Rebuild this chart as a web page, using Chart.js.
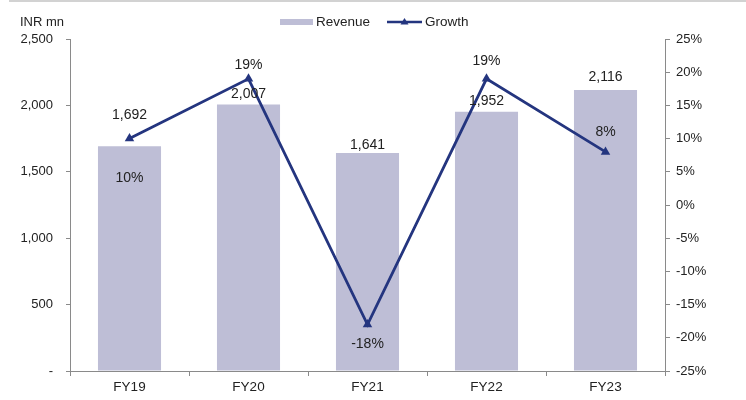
<!DOCTYPE html>
<html>
<head>
<meta charset="utf-8">
<script src="https://cdn.jsdelivr.net/npm/chart.js@4/dist/chart.umd.min.js"></script>
<style>
  html, body { margin: 0; padding: 0; background: #fff; }
  #wrap { width: 746px; height: 400px; position: relative; }
</style>
</head>
<body>
<div id="wrap"><canvas id="c" width="746" height="400"></canvas></div>
<script>
// Fiscal years and figures
const categories = ['FY19', 'FY20', 'FY21', 'FY22', 'FY23'];
const revenue = [1692, 2007, 1641, 1952, 2116];      // INR mn
const growth = [10, 19, -18, 19, 8];                  // % YoY
const revenueTicks = [0, 500, 1000, 1500, 2000, 2500];
const growthTicks = [-25, -20, -15, -10, -5, 0, 5, 10, 15, 20, 25];

// Vertical placement of value labels relative to their mark (px, negative = above)
const revenueLabelShift = [-31, -10, -8, -11, -13];
const growthLabelShift = [40, -14, 20, -18, -20];

const BAR = '#bebed6';
const LINE = '#24357f';
const TEXT = '#222222';
const AXIS = '#8a8a8a';
const SANS = "'Liberation Sans', Arial, sans-serif";

const fmt = v => v.toLocaleString('en-US');

const valueLabels = {
  id: 'valueLabels',
  afterDatasetsDraw(chart) {
    const ctx = chart.ctx;
    ctx.save();
    ctx.fillStyle = TEXT;
    ctx.font = '14px ' + SANS;
    ctx.textAlign = 'center';
    ctx.textBaseline = 'middle';
    const barMeta = chart.getDatasetMeta(0);
    barMeta.data.forEach((el, i) => {
      ctx.fillText(fmt(revenue[i]), el.x, el.y + revenueLabelShift[i]);
    });
    const lineMeta = chart.getDatasetMeta(1);
    lineMeta.data.forEach((el, i) => {
      ctx.fillText(growth[i] + '%', el.x, el.y + growthLabelShift[i]);
    });
    ctx.restore();
  }
};

const frame = {
  id: 'frame',
  afterDraw(chart) {
    const ctx = chart.ctx;
    ctx.save();
    // top rule
    ctx.strokeStyle = '#d2d2d2';
    ctx.lineWidth = 2;
    ctx.beginPath();
    ctx.moveTo(9, 1);
    ctx.lineTo(746, 1);
    ctx.stroke();

    // unit caption
    ctx.fillStyle = TEXT;
    ctx.font = '13px ' + SANS;
    ctx.textAlign = 'left';
    ctx.textBaseline = 'middle';
    ctx.fillText('INR mn', 20, 22);

    // legend
    ctx.font = '13.5px ' + SANS;
    ctx.fillStyle = BAR;
    ctx.fillRect(280, 19, 33, 6);
    ctx.fillStyle = TEXT;
    ctx.fillText('Revenue', 316, 22);
    ctx.strokeStyle = LINE;
    ctx.lineWidth = 2.5;
    ctx.beginPath();
    ctx.moveTo(387, 22);
    ctx.lineTo(422, 22);
    ctx.stroke();
    ctx.fillStyle = LINE;
    ctx.beginPath();
    ctx.moveTo(404.5, 18);
    ctx.lineTo(408.5, 24.5);
    ctx.lineTo(400.5, 24.5);
    ctx.closePath();
    ctx.fill();
    ctx.fillStyle = TEXT;
    ctx.fillText('Growth', 425, 22);
    ctx.restore();
  }
};

new Chart(document.getElementById('c'), {
  data: {
    labels: categories,
    datasets: [
      {
        type: 'bar',
        label: 'Revenue',
        data: revenue,
        yAxisID: 'y',
        backgroundColor: BAR,
        barPercentage: 0.53,
        categoryPercentage: 1,
        order: 2
      },
      {
        type: 'line',
        label: 'Growth',
        data: growth,
        yAxisID: 'y1',
        borderColor: LINE,
        backgroundColor: LINE,
        borderWidth: 2.8,
        pointStyle: 'triangle',
        pointRadius: 5.5,
        pointBorderWidth: 0,
        tension: 0,
        order: 1
      }
    ]
  },
  options: {
    responsive: false,
    animation: false,
    layout: { padding: { top: 39, left: 0, right: 0, bottom: 0 } },
    plugins: {
      legend: { display: false },
      tooltip: { enabled: false }
    },
    scales: {
      x: {
        offset: true,
        grid: { display: true, drawOnChartArea: false, drawTicks: true, tickLength: 5, color: AXIS, offset: true },
        border: { color: AXIS, width: 1 },
        ticks: { color: TEXT, font: { family: SANS, size: 13.5 }, padding: 3 },
        afterFit(s) { s.height = 29; }
      },
      y: {
        position: 'left',
        min: 0,
        max: 2500,
        afterBuildTicks(s) { s.ticks = revenueTicks.map(v => ({ value: v })); },
        grid: { display: true, drawOnChartArea: false, drawTicks: true, tickLength: 4, color: AXIS },
        border: { color: AXIS, width: 1 },
        ticks: {
          color: TEXT,
          font: { family: SANS, size: 13 },
          padding: 13,
          callback: v => (v === 0 ? '-' : fmt(v))
        },
        afterFit(s) { s.width = 70; }
      },
      y1: {
        position: 'right',
        min: -25,
        max: 25,
        afterBuildTicks(s) { s.ticks = growthTicks.map(v => ({ value: v })); },
        grid: { display: true, drawOnChartArea: false, drawTicks: true, tickLength: 5, color: AXIS },
        border: { color: AXIS, width: 1 },
        ticks: {
          color: TEXT,
          font: { family: SANS, size: 13 },
          padding: 6,
          callback: v => v + '%'
        },
        afterFit(s) { s.width = 81; }
      }
    }
  },
  plugins: [valueLabels, frame]
});
</script>
</body>
</html>
